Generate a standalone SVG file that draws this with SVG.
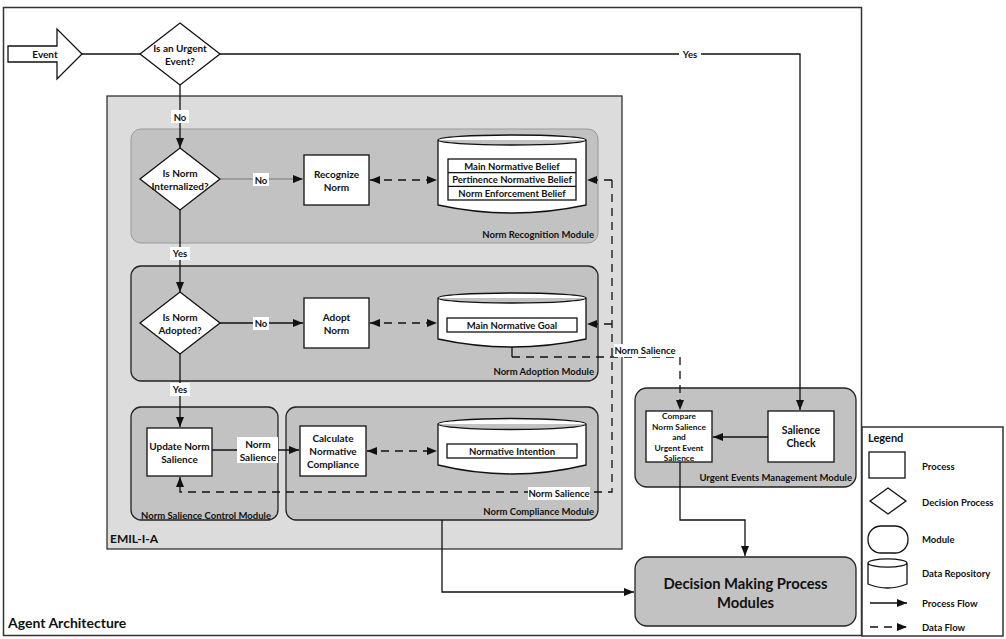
<svg xmlns="http://www.w3.org/2000/svg" width="1006" height="639" viewBox="0 0 1006 639">
<style>
text{font-family:Lato,"Liberation Sans",sans-serif;font-weight:700;fill:#111;}
.c{text-anchor:middle;dominant-baseline:central;}
.r{text-anchor:end;}
.f10{font-size:10px;}
.f9{font-size:9.5px;}
.f8{font-size:8.4px;}
.box{fill:#fff;stroke:#111;stroke-width:1.3;}
.mod{fill:#c2c2c2;stroke:#222;stroke-width:1.3;}
.ln{fill:none;stroke:#111;stroke-width:1.3;}
.gl{fill:none;stroke:#777;stroke-width:1;}
.ds{fill:none;stroke:#111;stroke-width:1.3;stroke-dasharray:8,6;}
.lb{fill:#fff;}
</style>
<defs>
<marker id="ah" viewBox="0 0 10 10" refX="10" refY="5" markerWidth="10" markerHeight="10" markerUnits="userSpaceOnUse" orient="auto-start-reverse"><path d="M0,1 L10,5 L0,9 Z" fill="#111"/></marker>
</defs>
<g id="agent-architecture">
<rect x="3.5" y="7.5" width="858" height="628" fill="#fff" stroke="#333" stroke-width="1.5"/>
<text x="8" y="628" font-size="14">Agent Architecture</text>
</g>
<g id="legend">
<rect x="862" y="427" width="141" height="209" fill="#fff" stroke="#333" stroke-width="1.5"/>
<text x="868" y="442" font-size="11">Legend</text>
<rect x="869" y="452" width="36" height="26" class="box"/>
<text x="922" y="470" class="f9">Process</text>
<polygon points="888,488 906,501 888,514 870,501" class="box"/>
<text x="922" y="506" class="f9">Decision Process</text>
<rect x="868" y="526" width="40" height="27" rx="13" class="box"/>
<text x="922" y="543" class="f9">Module</text>
<path d="M868,563 A19,4 0 0 1 907,563 V584 Q887.5,592 868,584 Z M868,563 A19,4 0 0 0 907,563" class="box"/>
<text x="922" y="577" class="f9">Data Repository</text>
<line x1="870" y1="603" x2="907" y2="603" class="ln" marker-end="url(#ah)"/>
<text x="922" y="607" class="f9">Process Flow</text>
<line x1="870" y1="627" x2="907" y2="627" class="ds" stroke-dasharray="9,6" marker-end="url(#ah)"/>
<text x="922" y="631" class="f9">Data Flow</text>
</g>
<g id="event">
<polygon points="8,46 57,46 57,29 82,54 57,79 57,62 8,62" class="box"/>
<text x="45" y="54" class="c f10">Event</text>
</g>
<g id="urgent-decision">
<polygon points="180,23 220,54 180,85 140,54" class="box"/>
<text x="180" y="48" class="c f10">Is an Urgent</text>
<text x="180" y="61" class="c f10">Event?</text>
</g>
<g id="emil">
<rect x="107" y="96" width="515" height="453" fill="#dcdcdc" stroke="#333" stroke-width="1.3"/>
<text x="110" y="543" font-size="12">EMIL-I-A</text>
</g>
<g id="norm-recognition-module">
<rect x="131" y="129" width="467" height="114" rx="10" fill="#c2c2c2" stroke="#999" stroke-width="1"/>
<text x="594" y="238" class="r f9">Norm Recognition Module</text>
</g>
<g id="norm-adoption-module">
<rect x="131" y="266" width="467" height="115" rx="10" class="mod"/>
<text x="594" y="375" class="r f9">Norm Adoption Module</text>
</g>
<g id="norm-salience-control-module">
<rect x="131" y="407" width="147" height="113" rx="10" class="mod"/>
<text x="206" y="515" class="c f9" dominant-baseline="auto">Norm Salience Control Module</text>
</g>
<g id="norm-compliance-module">
<rect x="286" y="407" width="312" height="113" rx="10" class="mod"/>
<text x="594" y="515" class="r f9">Norm Compliance Module</text>
</g>
<g id="urgent-events-module">
<rect x="635" y="388" width="221" height="99" rx="12" class="mod"/>
<text x="852" y="481" class="r f9">Urgent Events Management Module</text>
</g>
<g id="is-norm-internalized">
<polygon points="180,148 220,179 180,210 140,179" class="box"/>
<text x="180" y="173" class="c f10">Is Norm</text>
<text x="180" y="186" class="c f10">Internalized?</text>
</g>
<g id="recognize-norm">
<rect x="304" y="155" width="65" height="50" class="box"/>
<text x="336.5" y="174" class="c f10">Recognize</text>
<text x="336.5" y="187" class="c f10">Norm</text>
</g>
<g id="belief-repository">
<path d="M438,140 A74,5 0 0 1 586,140 V205 Q512,221 438,205 Z M438,140 A74,5 0 0 0 586,140" class="box"/>
<rect x="448" y="159" width="128" height="41" class="box"/>
<line x1="448" y1="172.7" x2="576" y2="172.7" class="ln"/>
<line x1="448" y1="186.3" x2="576" y2="186.3" class="ln"/>
<text x="512" y="166" class="c f9">Main Normative Belief</text>
<text x="512" y="179.5" class="c f9">Pertinence Normative Belief</text>
<text x="512" y="193" class="c f9">Norm Enforcement Belief</text>
</g>
<g id="is-norm-adopted">
<polygon points="180,292 220,323 180,354 140,323" class="box"/>
<text x="180" y="317" class="c f10">Is Norm</text>
<text x="180" y="330" class="c f10">Adopted?</text>
</g>
<g id="adopt-norm">
<rect x="304" y="298" width="65" height="50" class="box"/>
<text x="336.5" y="317" class="c f10">Adopt</text>
<text x="336.5" y="330" class="c f10">Norm</text>
</g>
<g id="goal-repository">
<path d="M438,298 A74,5 0 0 1 586,298 V339 Q512,355 438,339 Z M438,298 A74,5 0 0 0 586,298" class="box"/>
<rect x="447" y="318" width="130" height="14" class="box"/>
<text x="512" y="325" class="c f9">Main Normative Goal</text>
</g>
<g id="update-norm-salience">
<rect x="147" y="428" width="65" height="48" class="box"/>
<text x="179.5" y="446" class="c f10">Update Norm</text>
<text x="179.5" y="459" class="c f10">Salience</text>
</g>
<g id="calculate-compliance">
<rect x="300" y="426" width="66" height="50" class="box"/>
<text x="333" y="438" class="c f10">Calculate</text>
<text x="333" y="451" class="c f10">Normative</text>
<text x="333" y="464" class="c f10">Compliance</text>
</g>
<g id="intention-repository">
<path d="M438,424 A74,5.5 0 0 1 586,424 V465 Q512,483 438,465 Z M438,424 A74,5.5 0 0 0 586,424" class="box"/>
<rect x="447" y="444" width="130" height="14" class="box"/>
<text x="512" y="451" class="c f9">Normative Intention</text>
</g>
<g id="compare-salience">
<rect x="646" y="411" width="66" height="51" class="box"/>
<text x="679" y="416" class="c f8">Compare</text>
<text x="679" y="426.5" class="c f8">Norm Salience</text>
<text x="679" y="437" class="c f8">and</text>
<text x="679" y="447.5" class="c f8">Urgent Event</text>
<text x="679" y="457.5" class="c f8">Salience</text>
</g>
<g id="salience-check">
<rect x="768" y="411" width="66" height="51" class="box"/>
<text x="801" y="430" class="c" font-size="10.5">Salience</text>
<text x="801" y="443" class="c" font-size="10.5">Check</text>
</g>
<g id="decision-making">
<rect x="635" y="557" width="221" height="69" rx="12" class="mod"/>
<text x="745.5" y="583" class="c" font-size="14.8">Decision Making Process</text>
<text x="745.5" y="602" class="c" font-size="14.8">Modules</text>
</g>
<g id="connectors">
<line x1="82" y1="54" x2="140" y2="54" class="ln"/>
<path d="M220,54 H800 V410" class="ln" marker-end="url(#ah)"/>
<rect x="679" y="48" width="22" height="12" class="lb"/>
<text x="690" y="54" class="c f9">Yes</text>
<path d="M180,85 V148" class="ln" marker-end="url(#ah)"/>
<rect x="171" y="110" width="18" height="13" class="lb"/>
<text x="180" y="117" class="c f9">No</text>
<path d="M220,179 H303" class="gl" marker-end="url(#ah)"/>
<rect x="253" y="173" width="16" height="13" class="lb"/>
<text x="261" y="180" class="c f9">No</text>
<path d="M370,180 H437" class="ds" marker-start="url(#ah)" marker-end="url(#ah)"/>
<path d="M180,210 V292" class="ln" marker-end="url(#ah)"/>
<rect x="170" y="247" width="20" height="13" class="lb"/>
<text x="180" y="253" class="c f9">Yes</text>
<path d="M220,323 H303" class="ln" marker-end="url(#ah)"/>
<rect x="253" y="317" width="16" height="13" class="lb"/>
<text x="261" y="323" class="c f9">No</text>
<path d="M370,323 H437" class="ds" marker-start="url(#ah)" marker-end="url(#ah)"/>
<path d="M180,354 V427" class="ln" marker-end="url(#ah)"/>
<rect x="170" y="383" width="20" height="13" class="lb"/>
<text x="180" y="389" class="c f9">Yes</text>
<path d="M212,450 H299" class="ln" marker-end="url(#ah)"/>
<rect x="237" y="437" width="41" height="26" class="lb"/>
<text x="258" y="444" class="c f10">Norm</text>
<text x="258" y="457" class="c f10">Salience</text>
<path d="M367,451 H437" class="ds" marker-start="url(#ah)" marker-end="url(#ah)"/>
<path d="M612,180 V492 H180 V477" class="ds" marker-end="url(#ah)"/>
<path d="M612,180 H587" class="ds" marker-end="url(#ah)"/>
<path d="M612,324 H587" class="ds" marker-end="url(#ah)"/>
<rect x="528" y="487" width="62" height="13" class="lb"/>
<text x="559" y="493" class="c f9">Norm Salience</text>
<path d="M512,347 V357" class="ln"/>
<path d="M512,357 H680 V410" class="ds" marker-end="url(#ah)"/>
<rect x="614" y="344" width="62" height="13" class="lb"/>
<text x="645" y="350" class="c f9">Norm Salience</text>
<path d="M768,437 H713" class="ln" marker-end="url(#ah)"/>
<path d="M680,462 V520 H745 V556" class="ln" marker-end="url(#ah)"/>
<path d="M442,520 V592 H634" class="ln" marker-end="url(#ah)"/>
</g>
</svg>
